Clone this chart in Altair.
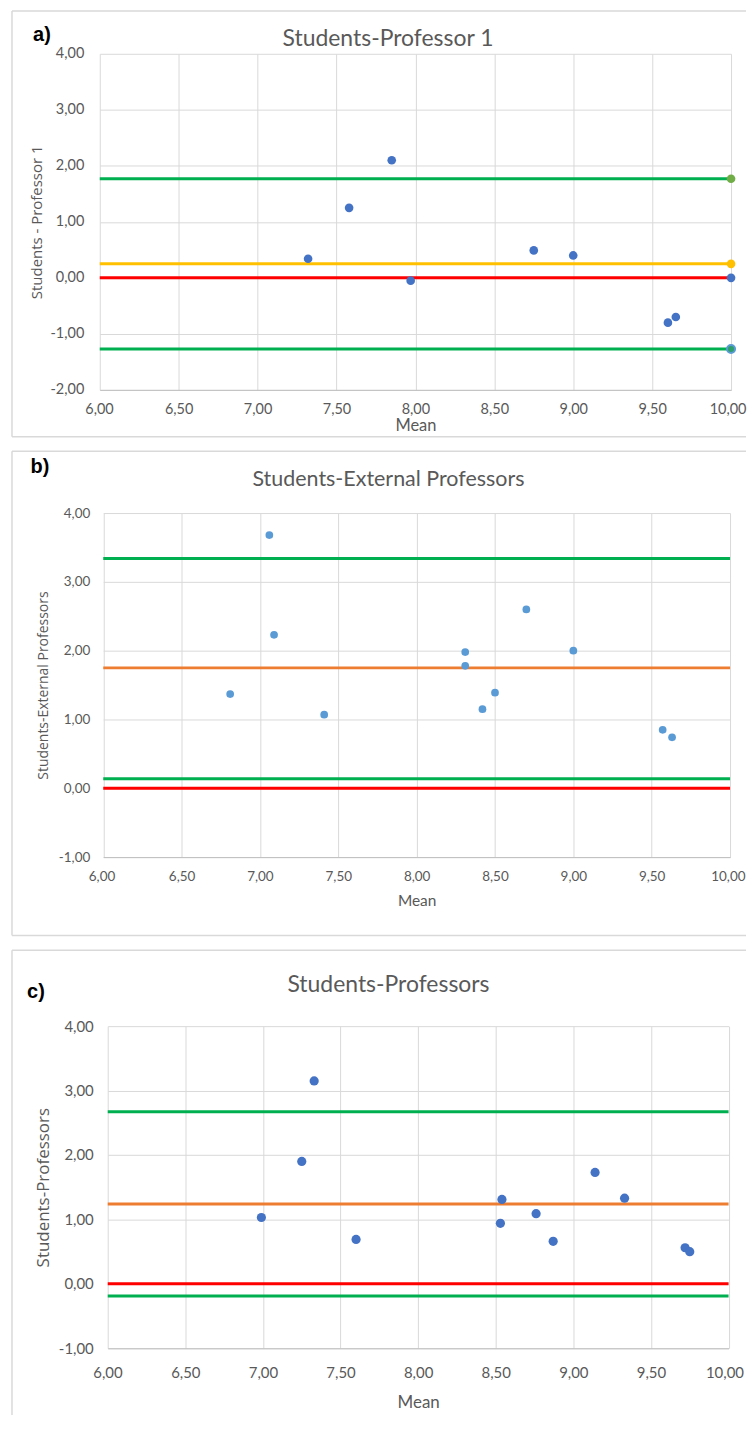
import altair as alt
import pandas as pd

# ---------------- data ----------------
A_MEAN = [7.32, 7.58, 7.85, 7.97, 8.75, 9.00, 9.60, 9.65]
A_DIFF = [0.34, 1.25, 2.10, -0.05, 0.49, 0.40, -0.80, -0.70]
A_UPPER, A_BIAS, A_ZERO, A_LOWER = 1.77, 0.25, 0.00, -1.27

B_MEAN = [6.81, 7.06, 7.09, 7.41, 8.31, 8.31, 8.42, 8.50, 8.70, 9.00, 9.57, 9.63]
B_DIFF = [1.37, 3.68, 2.23, 1.07, 1.98, 1.78, 1.15, 1.39, 2.60, 2.00, 0.85, 0.74]
B_UPPER, B_BIAS, B_ZERO, B_LOWER = 3.34, 1.75, 0.00, 0.14

C_MEAN = [6.99, 7.25, 7.33, 7.60, 8.53, 8.54, 8.76, 8.87, 9.14, 9.33, 9.72, 9.75]
C_DIFF = [1.03, 1.90, 3.15, 0.69, 0.94, 1.31, 1.09, 0.66, 1.73, 1.33, 0.56, 0.50]
C_UPPER, C_BIAS, C_ZERO, C_LOWER = 2.67, 1.24, 0.00, -0.19

X_TICKS = [6.0, 6.5, 7.0, 7.5, 8.0, 8.5, 9.0, 9.5, 10.0]
A_Y_TICKS = [-2, -1, 0, 1, 2, 3, 4]
BC_Y_TICKS = [-1, 0, 1, 2, 3, 4]
X_MIN, X_MAX = 6.0, 10.0

GREEN = "#00B050"
RED = "#FF0000"
YELLOW = "#FFC000"
ORANGE = "#ED7D31"
FRAME = "#D9D9D9"
TXT = "#595959"
LABEL_EXPR = ("(datum.value < 0 ? '-' : '') + "
              "replace(format(abs(datum.value), '.2f'), '.', ',')")

one = pd.DataFrame({"k": [0]})

# all panels share the same group origin (page x = 99); the x range is shifted per panel
FL, FRIGHT = -88, 648


def panel(letter, title, ytitle, means, diffs, upper, bias, zero, lower, bias_color,
          point_color, point_size, yticks, w, r0, h, ft, fb, title_pos, letter_pos,
          ytitle_x, xtitle_y, lab_pad_x, lab_pad_y, lab_size, ytitle_size, title_size,
          mean_size, ends=False, bottom_line=True):
    pts = pd.DataFrame({"mean": means, "diff": diffs})
    ydom = [yticks[0], yticks[-1]]
    xs = alt.Scale(domain=[X_MIN, X_MAX], range=[r0, w], nice=False, zero=False)
    ys = alt.Scale(domain=ydom, nice=False, zero=False)
    xaxis = alt.Axis(values=X_TICKS, labelExpr=LABEL_EXPR, title="Mean",
                     grid=True, gridColor=FRAME, domain=True, domainColor="#BFBFBF",
                     ticks=False, labelPadding=lab_pad_x, labelBaseline="middle",
                     labelFlush=True, labelFlushOffset=15,
                     labelFont="Lato", labelFontSize=lab_size, labelColor=TXT,
                     titleFont="Lato", titleFontSize=mean_size, titleColor=TXT,
                     titleFontWeight="normal", titleX=(r0 + w) / 2, titleY=xtitle_y,
                     titleBaseline="middle")
    yaxis = alt.Axis(values=yticks, labelExpr=LABEL_EXPR, title=ytitle,
                     grid=True, gridColor=FRAME, domain=False, ticks=False,
                     labelPadding=lab_pad_y, labelFont="Lato", labelFontSize=lab_size,
                     labelColor=TXT, titleFont="Open Sans", titleFontSize=ytitle_size,
                     titleColor=TXT, titleFontWeight="normal", titleX=ytitle_x,
                     titleY=h / 2, titleBaseline="middle")

    base_pts = alt.Chart(pts).encode(
        x=alt.X("mean:Q", scale=xs, axis=xaxis),
        y=alt.Y("diff:Q", scale=ys, axis=yaxis),
    )

    def hline(val, color):
        return alt.Chart(pd.DataFrame({"v": [val], "a": [X_MIN], "b": [X_MAX]})).mark_rule(
            color=color, strokeWidth=3).encode(
            x=alt.X("a:Q", scale=xs), x2="b:Q", y=alt.Y("v:Q", scale=ys))

    layers = [
        base_pts.mark_point(opacity=0),
        hline(upper, GREEN), hline(lower, GREEN), hline(bias, bias_color), hline(zero, RED),
    ]
    if ends:
        def endpt(val, fill, stroke=None, size=75):
            kw = dict(filled=True, fill=fill, size=size, opacity=1)
            if stroke:
                kw.update(stroke=stroke, strokeWidth=2)
            else:
                kw.update(strokeWidth=0)
            return alt.Chart(pd.DataFrame({"x": [X_MAX], "v": [val]})).mark_point(
                shape="circle", **kw).encode(
                x=alt.X("x:Q", scale=xs), y=alt.Y("v:Q", scale=ys))
        layers += [endpt(upper, "#70AD47"), endpt(bias, YELLOW),
                   endpt(zero, "#4472C4"), endpt(lower, "#2E9E6A", stroke="#5B9BD5", size=65)]
    layers.append(base_pts.mark_circle(color=point_color, size=point_size, opacity=1))

    # panel frame (decoration)
    frame = [
        alt.Chart(one).mark_rule(color=FRAME, strokeWidth=1.5).encode(
            x=alt.value(FL), x2=alt.value(FRIGHT), y=alt.value(ft)),
        alt.Chart(one).mark_rule(color=FRAME, strokeWidth=1.5).encode(
            x=alt.value(FL), y=alt.value(ft), y2=alt.value(fb)),
    ]
    if bottom_line:
        frame.append(alt.Chart(one).mark_rule(color=FRAME, strokeWidth=1.5).encode(
            x=alt.value(FL), x2=alt.value(FRIGHT), y=alt.value(fb)))
    texts = [
        alt.Chart(one).mark_text(font="Lato", fontSize=title_size, color=TXT,
                                 align="center", baseline="middle").encode(
            x=alt.value(title_pos[0]), y=alt.value(title_pos[1]), text=alt.value(title)),
        alt.Chart(one).mark_text(font="Liberation Sans", fontSize=20, fontWeight="bold",
                                 color="#000000", align="center", baseline="middle").encode(
            x=alt.value(letter_pos[0]), y=alt.value(letter_pos[1]), text=alt.value(letter)),
    ]
    return alt.layer(*frame, *layers, *texts).properties(width=w, height=h)


# panel a: plot x 99..732, top 51
pa = panel("a)", "Students-Professor 1", "Students - Professor 1", A_MEAN, A_DIFF,
           A_UPPER, A_BIAS, A_ZERO, A_LOWER, YELLOW, "#4472C4", 75, A_Y_TICKS,
           w=633, r0=0, h=337, ft=-43, fb=384,
           title_pos=(289, -15), letter_pos=(-58, -19), ytitle_x=-63, xtitle_y=36,
           lab_pad_x=20, lab_pad_y=16, lab_size=14.5, ytitle_size=15, title_size=23,
           mean_size=16.5, ends=True)

# panel b: plot x 102.5..731, top 514
pb = panel("b)", "Students-External Professors", "Students-External Professors", B_MEAN, B_DIFF,
           B_UPPER, B_BIAS, B_ZERO, B_LOWER, ORANGE, "#5B9BD5", 60, BC_Y_TICKS,
           w=632, r0=3.5, h=345, ft=-62, fb=423.5,
           title_pos=(289.5, -33), letter_pos=(-60, -46), ytitle_x=-56, xtitle_y=44,
           lab_pad_x=19, lab_pad_y=10, lab_size=13.5, ytitle_size=14, title_size=21.5,
           mean_size=15.5)

# panel c: plot x 107..729.5, top 1025
pc = panel("c)", "Students-Professors", "Students-Professors", C_MEAN, C_DIFF,
           C_UPPER, C_BIAS, C_ZERO, C_LOWER, ORANGE, "#4472C4", 85, BC_Y_TICKS,
           w=630.5, r0=8, h=323, ft=-76, fb=390,
           title_pos=(289.5, -41), letter_pos=(-64, -34), ytitle_x=-56, xtitle_y=54,
           lab_pad_x=24, lab_pad_y=6.5, lab_size=15, ytitle_size=17, title_size=23,
           mean_size=17, bottom_line=False)

chart = alt.vconcat(pa, pb, pc, spacing=12.5).properties(
    padding={"left": 3, "top": 0, "right": 0, "bottom": 0},
    background="#FFFFFF",
).configure_view(strokeWidth=0)

chart.save("out.html", embed_options={"renderer": "svg", "actions": False})
